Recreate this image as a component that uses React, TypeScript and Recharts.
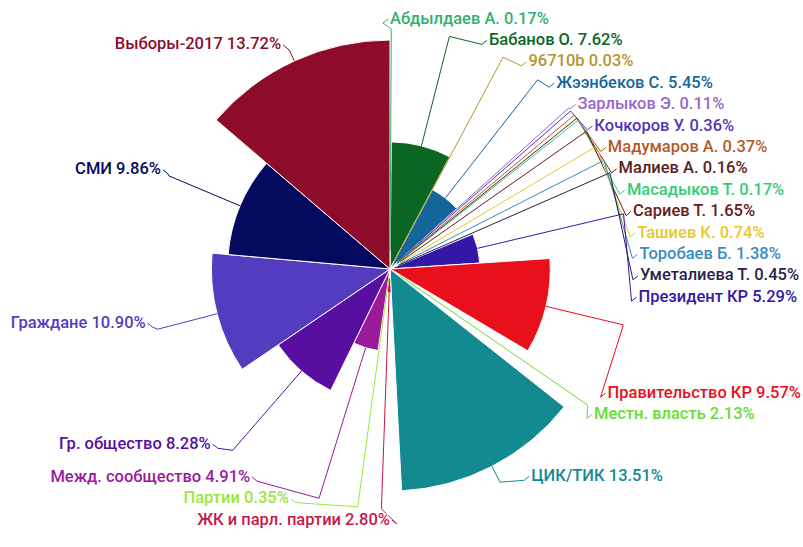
import { PieChart, Pie, Cell } from "recharts";

const names = [
  "Абдылдаев А.",
  "Бабанов О.",
  "96710b",
  "Жээнбеков С.",
  "Зарлыков Э.",
  "Кочкоров У.",
  "Мадумаров А.",
  "Малиев А.",
  "Масадыков Т.",
  "Сариев Т.",
  "Ташиев К.",
  "Торобаев Б.",
  "Уметалиева Т.",
  "Президент КР",
  "Правительство КР",
  "Местн. власть",
  "ЦИК/ТИК",
  "ЖК и парл. партии",
  "Партии",
  "Межд. сообщество",
  "Гр. общество",
  "Граждане",
  "СМИ",
  "Выборы-2017",
];

// slice angle (share of mentions, %)
const shares = [
  0.17, 7.62, 0.03, 5.45, 0.11, 0.36, 0.37, 0.16, 0.17, 1.65, 0.74, 1.38, 0.45,
  5.29, 9.57, 2.13, 13.51, 2.8, 0.35, 4.91, 8.28, 10.9, 9.86, 13.72,
];

// slice depth (second measure, relative to the largest)
const zValues = [
  8, 55.5, 4, 39.3, 4, 5, 5, 4, 4, 6, 5, 5, 4, 39.3, 70, 5, 97, 10.5, 4, 36, 59,
  78, 71, 100,
];

const colors = [
  "#33b06c",
  "#0b6623",
  "#b8942f",
  "#14669a",
  "#9966cc",
  "#5533bb",
  "#b35a2a",
  "#5a1e1e",
  "#33cc77",
  "#6b1a1a",
  "#e8c828",
  "#3a8cc0",
  "#2a1f4a",
  "#3318a8",
  "#e8101a",
  "#66dd33",
  "#138a90",
  "#c41a4a",
  "#99e63d",
  "#9a1a9a",
  "#580ea0",
  "#543cc0",
  "#060a5e",
  "#8c0c2a",
];

const WIDTH = 803;
const HEIGHT = 547;
const CX = 390;
const CY = 269;
const MAX_R = 229;
const BREAK_R = 240;
const LABEL_R = 250;
const LINE_H = 21.4;
const FONT_SIZE = 16.5;
const FONT = `500 ${FONT_SIZE}px Roboto`;

const data = names.map((name, i) => ({ name, value: shares[i], z: zValues[i] }));
const zMax = Math.max(...zValues);
const radiusOf = (z: number) => (z / zMax) * MAX_R;
const labelText = (i: number) => `${names[i]} ${shares[i].toFixed(2)}%`;

let ctx: CanvasRenderingContext2D | null = null;
function textWidth(s: string) {
  if (!ctx) ctx = document.createElement("canvas").getContext("2d");
  if (!ctx) return s.length * 8.3;
  ctx.font = FONT;
  return ctx.measureText(s).width;
}

// --- label layout: spread labels per side, keep them inside the picture ---
const total = shares.reduce((a, b) => a + b, 0);
const midDeg: number[] = [];
{
  let acc = 0;
  shares.forEach((v) => {
    midDeg.push(((acc + v / 2) / total) * 360);
    acc += v;
  });
}

function layoutSide(order: number[], side: number, lo: number, hi: number) {
  const n = order.length;
  const lower: (number | null)[] = [];
  const upper: (number | null)[] = [];
  const t = order.map((i) => {
    const natural = CY - BREAK_R * Math.cos((midDeg[i] * Math.PI) / 180) - 7;
    const w = textWidth(labelText(i));
    const room = side > 0 ? WIDTH - 2 - w - CX : CX - 2 - w;
    // small overflows are handled by nudging x, big ones by moving the label away
    if (room >= LABEL_R - 6) {
      lower.push(null);
      upper.push(null);
      return natural;
    }
    const minDy = Math.sqrt(LABEL_R * LABEL_R - Math.max(0, room) ** 2);
    if (natural >= CY) {
      lower.push(CY + minDy);
      upper.push(null);
      return Math.max(natural, CY + minDy);
    }
    lower.push(null);
    upper.push(CY - minDy);
    return Math.min(natural, CY - minDy);
  });

  type Cl = { items: number[]; sum: number; pos: number };
  const place = (c: Cl) => {
    const k = c.items.length;
    const start = c.sum / k - ((k - 1) * LINE_H) / 2;
    c.pos = Math.max(lo, Math.min(hi - (k - 1) * LINE_H, start));
  };
  const cls: Cl[] = t.map((v, k) => ({ items: [k], sum: v, pos: 0 }));
  cls.forEach(place);
  let merged = true;
  while (merged) {
    merged = false;
    for (let k = 1; k < cls.length; k++) {
      const a = cls[k - 1];
      const b = cls[k];
      if (a.pos + a.items.length * LINE_H > b.pos + 0.01) {
        const m: Cl = { items: [...a.items, ...b.items], sum: a.sum + b.sum, pos: 0 };
        place(m);
        cls.splice(k - 1, 2, m);
        merged = true;
        break;
      }
    }
  }
  const pos: number[] = new Array(n);
  cls.forEach((c) => c.items.forEach((k, j) => (pos[k] = c.pos + j * LINE_H)));
  for (let k = 0; k < n; k++) {
    if (lower[k] != null) pos[k] = Math.max(pos[k], lower[k] as number);
    if (k > 0) pos[k] = Math.max(pos[k], pos[k - 1] + LINE_H);
  }
  for (let k = n - 1; k >= 0; k--) {
    if (upper[k] != null) pos[k] = Math.min(pos[k], upper[k] as number);
    if (k < n - 1) pos[k] = Math.min(pos[k], pos[k + 1] - LINE_H);
    pos[k] = Math.min(pos[k], hi);
  }
  const out: Record<number, number> = {};
  order.forEach((i, k) => (out[i] = pos[k]));
  return out;
}

const allIdx = names.map((_, i) => i);
const rightOrder = allIdx.filter((i) => midDeg[i] < 180);
const leftOrder = allIdx.filter((i) => midDeg[i] >= 180).reverse();
const labelY: Record<number, number> = {
  ...layoutSide(rightOrder, 1, 18, 537),
  ...layoutSide(leftOrder, -1, 18, 537),
};

const renderLabel = (props: any) => {
  const { cx, cy, midAngle, index } = props;
  const theta = ((90 - midAngle) * Math.PI) / 180;
  const side = Math.sin(theta) >= 0 ? 1 : -1;
  const r = radiusOf(zValues[index]);
  const p0 = [cx + r * Math.sin(theta), cy - r * Math.cos(theta)];
  const p1 = [cx + BREAK_R * Math.sin(theta), cy - BREAK_R * Math.cos(theta)];
  const ty = labelY[index];
  const dy = ty - cy;
  const w = textWidth(labelText(index));
  let lx = cx + side * Math.sqrt(Math.max(0, LABEL_R * LABEL_R - dy * dy));
  lx = side > 0 ? Math.min(lx, WIDTH - 2 - w) : Math.max(lx, 2 + w);
  const p2 = [lx - side * 7, ty + 5];
  const p3 = [lx - side * 2, ty + 1];
  const color = colors[index];
  const pts = [p0, p1, p2, p3].map((p) => p.join(",")).join(" ");
  return (
    <g key={`lbl-${index}`}>
      <polyline points={pts} fill="none" stroke={color} strokeWidth={1} />
      <text
        x={lx}
        y={ty}
        textAnchor={side > 0 ? "start" : "end"}
        dominantBaseline="central"
        fill={color}
        stroke="#fff"
        strokeWidth={2}
        strokeLinejoin="round"
        paintOrder="stroke"
        fontFamily="Roboto, sans-serif"
        fontSize={FONT_SIZE}
        fontWeight={500}
      >
        {labelText(index)}
      </text>
    </g>
  );
};

export default function App() {
  return (
    <div style={{ position: "absolute", left: 0, top: 0, background: "#fff" }}>
      <PieChart width={WIDTH} height={HEIGHT} margin={{ top: 0, right: 0, bottom: 0, left: 0 }}>
        {data.map((d, i) => (
          <Pie
            key={`slice-${i}`}
            data={data}
            dataKey="value"
            nameKey="name"
            cx={CX}
            cy={CY}
            startAngle={90}
            endAngle={-270}
            innerRadius={0}
            outerRadius={radiusOf(d.z)}
            isAnimationActive={false}
          >
            {data.map((e, j) => (
              <Cell
                key={`c-${j}`}
                fill={j === i ? colors[j] : "none"}
                stroke={j === i ? "#fff" : "none"}
                strokeWidth={1}
              />
            ))}
          </Pie>
        ))}
        <Pie
          data={data}
          dataKey="value"
          nameKey="name"
          cx={CX}
          cy={CY}
          startAngle={90}
          endAngle={-270}
          innerRadius={0}
          outerRadius={MAX_R}
          fill="none"
          stroke="none"
          label={renderLabel}
          labelLine={false}
          isAnimationActive={false}
        />
      </PieChart>
    </div>
  );
}
